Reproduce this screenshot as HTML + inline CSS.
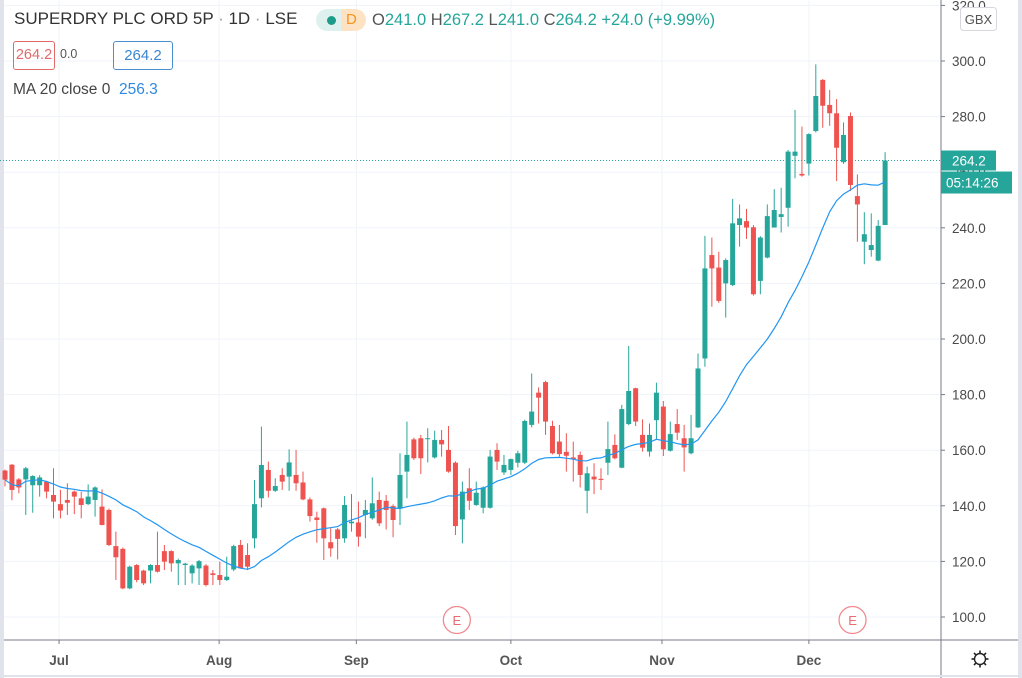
<!DOCTYPE html>
<html><head><meta charset="utf-8"><style>
html,body{margin:0;padding:0;background:#fff;}
body{width:1022px;height:678px;overflow:hidden;position:relative;font-family:"Liberation Sans",sans-serif;}
svg{position:absolute;left:0;top:0;}
.hdr{position:absolute;white-space:nowrap;color:#131722;}
</style></head><body>
<svg id="chart" width="1022" height="678"></svg>

<div class="hdr" style="left:14px;top:9px;font-size:17px;color:#333;">SUPERDRY PLC ORD 5P<span style="color:#999"> · </span>1D<span style="color:#999"> · </span>LSE</div>
<div style="position:absolute;left:316px;top:9px;width:50px;height:22px;border-radius:11px;background:linear-gradient(90deg,#dff1ee 50%,#fde3c3 50%);"></div>
<div style="position:absolute;left:327px;top:16px;width:9px;height:9px;border-radius:50%;background:#1e9c8a;"></div>
<div class="hdr" style="left:346px;top:11px;font-size:15px;color:#f7931a;">D</div>
<div class="hdr" style="left:372px;top:11px;font-size:16.5px;color:#555;">O<span style="color:#26a69a">241.0</span> H<span style="color:#26a69a">267.2</span> L<span style="color:#26a69a">241.0</span> C<span style="color:#26a69a">264.2</span> <span style="color:#26a69a">+24.0 (+9.99%)</span></div>
<div class="hdr" style="left:13px;top:41px;width:40px;height:27px;border:1px solid #e06a6a;border-radius:3px;color:#e06a6a;font-size:14.5px;line-height:27px;text-align:center;">264.2</div>
<div class="hdr" style="left:60px;top:47px;font-size:12.5px;color:#555;">0.0</div>
<div class="hdr" style="left:113px;top:41px;width:58px;height:27px;border:1px solid #4a90d0;border-radius:3px;color:#3a86d0;font-size:15px;line-height:27px;text-align:center;">264.2</div>
<div class="hdr" style="left:13px;top:81px;font-size:15.5px;color:#444;">MA 20 close 0 <span style="color:#2f8ae0">&nbsp;256.3</span></div>

<script>
const opens=[152.7,154.8,149.5,149.5,147.4,147.4,148.6,143.9,140.6,142.1,145.1,142.7,140.6,142.1,139.7,138.5,125.5,124.5,110.3,118.7,116.7,116.7,118.7,123.7,123.7,119.3,118.7,115.7,117.5,118.5,115.7,115.1,113.3,117.1,125.9,122.3,128.3,142.7,152.9,145.4,151.1,150.5,151.1,148.4,142.3,135.8,139.1,126.9,131.5,128.3,133.7,134,136.7,135.5,142.1,141.8,139.9,139.1,152.3,163.9,164.3,164.1,157.4,163.7,160.1,155.5,135.1,146.3,140.3,139.3,139.3,160.1,152,152.9,155.5,155.5,169.1,180.7,184.5,168.7,163.1,159.4,157.4,158.3,145.4,150.5,149.7,155.5,161.9,153.7,169.4,182.3,165.5,159.5,170.8,175.7,159.8,169.4,164.3,158.9,168.2,193,230.2,225.7,220,219.4,241,242.4,240.2,220.9,229.3,240.1,243.9,247.2,265.9,259.4,263.1,274.8,293.2,284.2,281.2,263.6,280.2,251.4,235,232,228.2,241];
const highs=[153,155,150,154,151,151,149,153.5,145.7,148.1,145.5,145,147.7,147,145.9,139,130.7,125,118.5,119,117,119,130.7,125.9,124,121,119.5,119,120.5,119,116.9,119.9,121.7,126,127.7,126.5,149.3,168.5,155.9,149.9,153.5,160.3,160.1,152.3,143,137.9,139.4,131.9,132,143.5,144.2,141.5,142.1,150.2,145.1,143.9,140.5,158.9,170.3,164.5,165.5,167.9,167,167.3,168.7,156,148.7,153.5,148.7,147,160.1,162.5,158.3,157,159.8,171,187.6,182.6,185,170.6,169.1,166.1,163.1,159.5,154.1,155.3,153.5,170.3,165.7,176.3,197.5,182.5,171.1,169.6,184.3,177.7,170.3,174.8,169.1,172.7,194.8,237.1,236.5,231.4,229,250.4,248.4,246.8,241,237,248.4,253.9,254.4,268,282.4,276.4,274,298.8,293.5,289.6,286.3,277.9,281.5,259.2,245.6,245.2,242.8,267.2];
const lows=[147,142,144.5,136.7,137.5,143.3,142.7,135.5,135.5,136.7,137,135.5,140.3,136.1,133,125.5,113.3,110,110,112.5,111.5,112.1,116,116.9,116.3,111.5,111.5,112.1,111.5,111,111.5,111.5,113,116.5,117.5,116.9,124.7,139.4,143,145,145.7,145.4,145.4,142,134.3,126.7,120.5,121.7,120.7,126.7,130.7,125.3,128.3,135,132.7,131.5,128.7,133.1,142.7,156.5,151.4,155.6,157,157.7,151.9,129.5,126.5,138.5,140,137.3,139,152.9,151.1,151.1,153.8,155,168.2,169.6,165.5,158.5,157.7,152.3,148.7,146.6,137.3,144.2,145.7,151.1,156.7,153.5,169,168.7,159.5,157.7,163.7,157.9,159.5,163.7,152.3,158.5,168,190,211.6,213,207.7,219,233.2,236,215.6,216.1,229,240.1,238.3,240.4,257.8,258.4,258.8,274.3,276,276.7,256.8,263,253.2,235,226.9,229.6,228,241];
const closes=[149.4,145.7,146.6,153.5,150.7,150.2,145.1,141.5,138.3,141.1,143.3,140.3,143.3,146.6,133.1,125.9,121.5,110.3,118.1,113.3,112.1,118.7,116.3,119.9,119.3,120.5,119.2,118.5,120.1,111.5,115.1,113.3,114.5,125.5,117.5,118.1,140.6,154.7,145.4,147.1,148.7,155.6,148.1,142.3,136.3,134.9,128.3,124.7,128.1,140.3,134.3,128.9,138.5,140.9,133.7,138.5,134.9,151.1,158.3,157.1,157.1,164.3,163.7,162.1,152.3,132.7,145.1,141.8,144.7,146.6,157.7,155.9,154.7,156.8,158.9,170.5,173.9,178.9,170.3,158.9,158.6,158,156.7,151.1,151.7,149.5,149.3,160.4,157.1,174.8,181.3,170.3,160.9,165.5,180.7,160.3,165.8,166.3,161,164.3,189.4,225.4,225.4,213.7,228.4,241.6,243.4,240.1,216.1,236.5,244.2,246.4,244.9,267.4,267.4,258.8,273.7,287.4,283.9,281.2,268.8,273.4,255.4,248.4,237.7,233.8,240.7,264.2];
const monthLabels=["Jul","Aug","Sep","Oct","Nov","Dec"];
const monthIndex=[7.8,30.9,50.7,73,94.8,116];
const priceTicks=[100,120,140,160,180,200,220,240,260,280,300,320];
const earningsIndex=[65.2,122.3];
const lastPrice=264.2;

const NS="http://www.w3.org/2000/svg";
const svg=document.getElementById('chart');
const PW=941, AX=640;
function xs(i){return 5+i*6.93;}
function ys(p){return 617-(p-100)*2.78;}
function mk(tag,attrs,parent){const e=document.createElementNS(NS,tag);for(const k in attrs)e.setAttribute(k,attrs[k]);(parent||svg).appendChild(e);return e;}

priceTicks.forEach(p=>{
  const l=mk('line',{x1:0,x2:PW,y1:ys(p),y2:ys(p),stroke:'#f0f3fa','stroke-width':1});
  
  
});
monthIndex.forEach(i=>{
  const l=mk('line',{x1:xs(i),x2:xs(i),y1:0,y2:AX,stroke:'#f0f3fa','stroke-width':1});
  
  
});
const ls=mk('rect',{x:0,y:0,width:4,height:678,fill:'#e0e3eb'});


const rs=mk('rect',{x:1018,y:0,width:4,height:678,fill:'#e0e3eb'});



const lp=mk('line',{x1:0,x2:PW,y1:ys(lastPrice),y2:ys(lastPrice),stroke:'#26a69a','stroke-width':1,'stroke-dasharray':'1 2'});



const g=mk('g',{});


for(let i=0;i<opens.length;i++){
  const up=closes[i]>=opens[i];const c=up?'#26a69a':'#ef5350';
  const x=xs(i);
  const w=mk('line',{x1:x,x2:x,y1:ys(highs[i]),y2:ys(lows[i]),stroke:c,'stroke-width':1},g);
  
  
  const top=ys(Math.max(opens[i],closes[i])),bot=ys(Math.min(opens[i],closes[i]));
  const b=mk('rect',{x:x-2.5,y:top,width:5,height:Math.max(1,bot-top),fill:c},g);
  
  
}
let pts=[];
for(let i=0;i<closes.length;i++){
  const s=Math.max(0,i-19);let sum=0;for(let j=s;j<=i;j++)sum+=closes[j];
  pts.push(xs(i).toFixed(1)+','+ys(sum/(i-s+1)).toFixed(1));
}
const ma=mk('polyline',{points:pts.join(' '),fill:'none',stroke:'#2196f3','stroke-width':1.2});



earningsIndex.forEach(i=>{
  const c=mk('circle',{cx:xs(i),cy:620,r:13.5,fill:'#fff',stroke:'#f08a8f','stroke-width':1.3});
  
  
  const t=mk('text',{x:xs(i),y:625,'text-anchor':'middle','font-size':13,fill:'#ea6a70','font-family':'Liberation Sans, sans-serif'});
  t.textContent='E';
  
  
});

const ya=mk('line',{x1:PW,x2:PW,y1:0,y2:678,stroke:'#787b86','stroke-width':1});


const xa=mk('line',{x1:4,x2:1018,y1:AX,y2:AX,stroke:'#787b86','stroke-width':1});


const bb=mk('line',{x1:4,x2:1018,y1:676,y2:676,stroke:'#e0e3eb','stroke-width':2});



priceTicks.forEach(p=>{
  const t=mk('line',{x1:PW,x2:PW+4,y1:ys(p),y2:ys(p),stroke:'#787b86'});
  
  
  const tx=mk('text',{x:952,y:ys(p)+5,'font-size':13.5,fill:'#4a4a4a','font-family':'Liberation Sans, sans-serif'});
  tx.textContent=p.toFixed(1);
  
  
});
monthIndex.forEach((i,k)=>{
  const t=mk('line',{x1:xs(i),x2:xs(i),y1:AX,y2:AX+4,stroke:'#787b86'});
  
  
  const tx=mk('text',{x:xs(i),y:665,'text-anchor':'middle','font-size':13.5,'font-weight':'bold',fill:'#555','font-family':'Liberation Sans, sans-serif'});
  tx.textContent=monthLabels[k];
  
  
});

const ly=ys(lastPrice);
const lb=mk('rect',{x:PW,y:ly-10,width:55,height:20,fill:'#26a69a'});


const lt=mk('text',{x:952,y:ly+5,'font-size':13.5,fill:'#fff','font-family':'Liberation Sans, sans-serif'});
lt.textContent=lastPrice.toFixed(1);


const cb=mk('rect',{x:PW,y:ly+11,width:71,height:22,fill:'#26a69a'});


const ct=mk('text',{x:946,y:ly+27,'font-size':13.5,fill:'#fff','font-family':'Liberation Sans, sans-serif'});
ct.textContent='05:14:26';



const gb=mk('rect',{x:960.5,y:7.5,width:36,height:23,rx:3,fill:'#fff',stroke:'#d6d8de'});


const gt=mk('text',{x:978.5,y:24,'text-anchor':'middle','font-size':13,fill:'#555','font-family':'Liberation Sans, sans-serif'});
gt.textContent='GBX';



const gear=mk('g',{transform:'translate(980,659)'});


mk('circle',{cx:0,cy:0,r:5.5,fill:'none',stroke:'#222','stroke-width':1.4},gear);
for(let a=0;a<8;a++){const r=a*Math.PI/4;mk('line',{x1:6*Math.cos(r),y1:6*Math.sin(r),x2:8.5*Math.cos(r),y2:8.5*Math.sin(r),stroke:'#222','stroke-width':1.6},gear);}
</script>
</body></html>
